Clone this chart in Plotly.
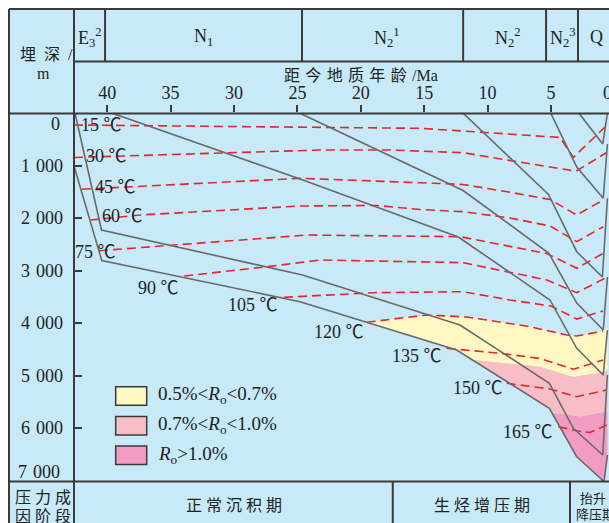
import plotly.graph_objects as go

W, H = 609, 523

# ---------------- data ----------------
age_ticks = [40, 35, 30, 25, 20, 15, 10, 5]
depth_ticks = [1000, 2000, 3000, 4000, 5000, 6000]
depth_tick_text = ["1\u2004000", "2\u2004000", "3\u2004000", "4\u2004000", "5\u2004000", "6\u2004000"]

strat_labels = ["E<sub>3</sub><sup>2</sup>", "N<sub>1</sub>", "N<sub>2</sub><sup>1</sup>",
                "N<sub>2</sub><sup>2</sup>", "N<sub>2</sub><sup>3</sup>", "Q"]
strat_label_age = [41.32, 32.44, 17.97, 8.43, 4.05, 1.40]
strat_bounds = [40.17, 24.64, 11.93, 5.39, 2.87]

stage_bounds = [17.48, 3.50]

# burial history (age Ma, depth m)
h1_age = [2.79, 0.92, 0.55]
h1_depth = [0, 587, 0]
h2_age = [5.02, 2.97, 0.88, 0.55]
h2_depth = [0, 1025, 1622, 587]
h3_age = [11.93, 5.20, 2.97, 0.95, 0.55]
h3_depth = [0, 1550, 2640, 3122, 1622]
h4_age = [24.8, 11.93, 5.17, 2.97, 0.88, 0.55]
h4_depth = [0, 1473, 2670, 3618, 4132, 3122]
h5_age = [39.6, 24.79, 12.31, 5.08, 2.97, 0.88, 0.55]
h5_depth = [0, 1254, 2360, 3560, 4481, 4990, 4132]
h6_age = [42.54, 40.45, 24.60, 12.18, 5.13, 3.24, 0.92, 0.55]
h6_depth = [0, 2226, 3084, 4037, 5148, 6006, 6515, 4990]
h7_age = [42.62, 40.43, 24.79, 12.44, 5.13, 2.97, 0.82, 0.55]
h7_depth = [1006, 2808, 3593, 4514, 5625, 6548, 7020, 6515]

# isotherms
iso15_age = [42.62, 24.79, 15.33, 11.94, 4.29, 3.24, 0.74]
iso15_depth = [225, 257, 288, 339, 463, 844, 263]
iso30_age = [42.62, 23.22, 17.67, 11.92, 8.47, 4.29, 3.02, 0.61]
iso30_depth = [844, 702, 702, 753, 892, 1050, 1105, 749]
iso45_age = [41.99, 24.79, 15.33, 11.94, 8.47, 5.08, 2.97, 0.88]
iso45_depth = [1450, 1241, 1325, 1359, 1496, 1645, 1940, 1654]
iso60_age = [41.32, 37.36, 24.79, 18.74, 15.33, 11.94, 8.23, 5.08, 2.97, 0.88]
iso60_depth = [2036, 1940, 1769, 1759, 1835, 1877, 1998, 2150, 2449, 2163]
iso75_age = [40.65, 34.73, 24.24, 12.18, 5.34, 2.97, 0.88]
iso75_depth = [2621, 2512, 2322, 2354, 2674, 2956, 2670]
iso90_age = [33.93, 27.39, 23.22, 11.94, 5.32, 2.97, 0.74]
iso90_depth = [3103, 2926, 2798, 2849, 3179, 3421, 3147]
iso105_age = [26.06, 18.96, 11.94, 8.23, 5.0, 2.97, 0.90]
iso105_depth = [3509, 3421, 3402, 3560, 3675, 3923, 3770]
iso120_age = [19.54, 14.81, 11.65, 6.65, 3.76, 2.97, 0.88]
iso120_depth = [3985, 3846, 3884, 4069, 4228, 4247, 4152]
iso135_age = [13.23, 9.02, 5.87, 3.24, 0.88]
iso135_depth = [4481, 4576, 4675, 4881, 4704]
iso150_age = [8.49, 5.08, 2.97, 0.61]
iso150_depth = [5148, 5257, 5404, 5276]
iso165_age = [4.42, 2.87, 1.92, 0.61]
iso165_depth = [5975, 6057, 6086, 5943]

iso_temps = [15, 30, 45, 60, 75, 90, 105, 120, 135, 150, 165]
iso_label_age = [40.49, 40.09, 39.38, 38.83, 40.96, 35.92, 28.50, 21.72, 15.57, 10.76, 6.85]
iso_label_depth = [225, 816, 1407, 1960, 2645, 3332, 3656, 4171, 4628, 5238, 6076]

# vitrinite reflectance boundaries
ro05_age = [19.54, 14.81, 11.65, 6.65, 3.76, 2.97, 0.88, 0.55]
ro05_depth = [3985, 3846, 3884, 4069, 4228, 4247, 4152, 4100]
ro07_age = [12.44, 11.13, 5.87, 3.24, 0.88, 0.55]
ro07_depth = [4514, 4704, 4832, 5028, 4933, 4900]
ro10_age = [5.13, 4.84, 2.71, 0.88, 0.55]
ro10_depth = [5625, 5715, 5781, 5690, 5680]

legend_labels = ["0.5%&lt;<i>R</i><sub>o</sub>&lt;0.7%",
                 "0.7%&lt;<i>R</i><sub>o</sub>&lt;1.0%",
                 "<i>R</i><sub>o</sub>&gt;1.0%"]

# ---------------- style ----------------
FONT = "Liberation Serif, 'Noto Sans CJK SC', serif"
BG = "#C7E9F8"
FRAME = "#3a3a3a"
GRAY = "#6a6a6a"
RED = "#e8232b"
C_YEL = "#FFF8C2"
C_PINK = "#F8BEC8"
C_MAG = "#F39BC3"
TXT = "#222222"


def PX(x):
    return x / W


def PY(y):
    return 1 - y / H


fig = go.Figure()

# maturity zones
yel_x = ro05_age + ro07_age[::-1]
yel_y = ro05_depth + ro07_depth[::-1]
pink_x = ro07_age + ro10_age[::-1]
pink_y = ro07_depth + ro10_depth[::-1]
tail = [(a, d) for a, d in zip(h7_age, h7_depth) if a < ro10_age[0]]
mag_x = ro10_age + [a for a, d in tail[::-1]]
mag_y = ro10_depth + [d for a, d in tail[::-1]]
for xs, ys, c in [(yel_x, yel_y, C_YEL), (pink_x, pink_y, C_PINK), (mag_x, mag_y, C_MAG)]:
    fig.add_trace(go.Scatter(x=xs, y=ys, fill="toself", fillcolor=c, mode="lines",
                             line=dict(width=0), hoverinfo="skip", showlegend=False))

# isotherms
isos = [(iso15_age, iso15_depth), (iso30_age, iso30_depth), (iso45_age, iso45_depth),
        (iso60_age, iso60_depth), (iso75_age, iso75_depth), (iso90_age, iso90_depth),
        (iso105_age, iso105_depth), (iso120_age, iso120_depth), (iso135_age, iso135_depth),
        (iso150_age, iso150_depth), (iso165_age, iso165_depth)]
for xs, ys in isos:
    fig.add_trace(go.Scatter(x=xs, y=ys, mode="lines",
                             line=dict(color=RED, width=1.6, dash="9px,5px"),
                             hoverinfo="skip", showlegend=False))

# burial curves
for xs, ys in [(h1_age, h1_depth), (h2_age, h2_depth), (h3_age, h3_depth), (h4_age, h4_depth),
               (h5_age, h5_depth), (h6_age, h6_depth), (h7_age, h7_depth)]:
    fig.add_trace(go.Scatter(x=xs, y=ys, mode="lines", line=dict(color=GRAY, width=1.6),
                             hoverinfo="skip", showlegend=False))

shapes = []
# background panel
shapes.append(dict(type="rect", xref="paper", yref="paper", x0=PX(9), x1=1.0, y0=0, y1=PY(9),
                   fillcolor=BG, line=dict(width=0), layer="below"))
# frame lines
for (x0, y0, x1, y1) in [(9, 9, 609, 9), (9, 9, 9, 523), (74, 9, 74, 523), (74, 61.5, 609, 61.5),
                         (9, 113.5, 609, 113.5), (9, 481.5, 609, 481.5)]:
    shapes.append(dict(type="line", xref="paper", yref="paper", x0=PX(x0), x1=PX(x1),
                       y0=PY(y0), y1=PY(y1), line=dict(color=FRAME, width=2), layer="above"))
for b in strat_bounds:
    shapes.append(dict(type="line", xref="x", yref="paper", x0=b, x1=b, y0=PY(61.5), y1=PY(9),
                       line=dict(color=FRAME, width=2), layer="above"))
for b in stage_bounds:
    shapes.append(dict(type="line", xref="x", yref="paper", x0=b, x1=b, y0=0, y1=PY(481.5),
                       line=dict(color=FRAME, width=2), layer="above"))
# legend swatches
for i, c in enumerate([C_YEL, C_PINK, C_MAG]):
    y0 = 386.7 + i * 29.7
    shapes.append(dict(type="rect", xref="paper", yref="paper", x0=PX(115.7), x1=PX(146.7),
                       y0=PY(y0 + 18.5), y1=PY(y0), fillcolor=c,
                       line=dict(color=FRAME, width=1.5), layer="above"))

ann = []
# stratigraphy labels
for lab, a in zip(strat_labels, strat_label_age):
    ann.append(dict(x=a, y=PY(37), xref="x", yref="paper", text=lab, showarrow=False,
                    font=dict(family=FONT, size=18, color=TXT), xanchor="center", yanchor="middle"))
# axis title
ann.append(dict(x=PX(361), y=PY(75), xref="paper", yref="paper",
                text="距\u2004今\u2004地\u2004质\u2004年\u2004龄\u2004/Ma", showarrow=False,
                font=dict(family=FONT, size=16, color=TXT), xanchor="center", yanchor="middle"))
# x tick label "0" (shifted inward as in the original)
ann.append(dict(x=PX(607), y=PY(93.5), xref="paper", yref="paper", text="0", showarrow=False,
                font=dict(family=FONT, size=18, color=TXT), xanchor="center", yanchor="middle"))
# y end labels
ann.append(dict(x=PX(62), y=PY(124), xref="paper", yref="paper", text="0", showarrow=False,
                font=dict(family=FONT, size=18, color=TXT), xanchor="right", yanchor="middle"))
ann.append(dict(x=PX(62), y=PY(472), xref="paper", yref="paper", text="7\u2004000", showarrow=False,
                font=dict(family=FONT, size=18, color=TXT), xanchor="right", yanchor="middle"))
# left column texts
for t, x, y in [("埋\u2002深\u2002/", 46, 55), ("m", 43, 74),
                ("压 力 成", 42.5, 497), ("因 阶 段", 42.5, 516)]:
    ann.append(dict(x=PX(x), y=PY(y), xref="paper", yref="paper", text=t, showarrow=False,
                    font=dict(family=FONT, size=16, color=TXT), xanchor="center", yanchor="middle"))
# stage texts
for t, x, y, s, anc in [("正 常 沉 积 期", 234, 505.5, 16, "center"), ("生 烃 增 压 期", 482, 505.5, 16, "center"),
                        ("抬升", 592.5, 498, 13, "center"), ("降压期", 574, 514, 13, "left")]:
    ann.append(dict(x=PX(x), y=PY(y), xref="paper", yref="paper", text=t, showarrow=False,
                    font=dict(family=FONT, size=s, color=TXT), xanchor=anc, yanchor="middle"))
# isotherm labels
for t, a, d in zip(iso_temps, iso_label_age, iso_label_depth):
    ann.append(dict(x=a, y=d, xref="x", yref="y", text=f"{t} ℃", showarrow=False,
                    font=dict(family=FONT, size=18, color=TXT), xanchor="center", yanchor="middle"))
# legend texts
for i, t in enumerate(legend_labels):
    ann.append(dict(x=PX(156), y=PY(395.5 + i * 29.7), xref="paper", yref="paper", text=t,
                    showarrow=False, font=dict(family=FONT, size=19, color=TXT),
                    xanchor="left", yanchor="middle"))

fig.update_layout(
    width=W, height=H, autosize=False,
    margin=dict(l=0, r=0, t=0, b=0, pad=0),
    paper_bgcolor="white", plot_bgcolor=BG,
    showlegend=False,
    shapes=shapes, annotations=ann,
    xaxis=dict(domain=[PX(74), 1.0], range=[42.62, 0.426], side="top",
               tickvals=age_ticks, ticktext=[str(v) for v in age_ticks],
               ticks="outside", ticklen=7, tickwidth=1.5, tickcolor=FRAME,
               ticklabelstandoff=-1,
               tickfont=dict(family=FONT, size=18, color=TXT),
               showgrid=False, zeroline=False, showline=False, fixedrange=True),
    yaxis=dict(domain=[PY(481.5), PY(113.2)], range=[7020, 0],
               tickvals=depth_ticks, ticktext=depth_tick_text,
               ticks="inside", ticklen=8, tickwidth=1.5, tickcolor=FRAME,
               ticklabelstandoff=10,
               tickfont=dict(family=FONT, size=18, color=TXT),
               showgrid=False, zeroline=False, showline=False, fixedrange=True),
)

fig.write_html("out.html", config={"displayModeBar": False},
               post_script="document.body.style.margin='0px';document.body.style.overflow='hidden';")
